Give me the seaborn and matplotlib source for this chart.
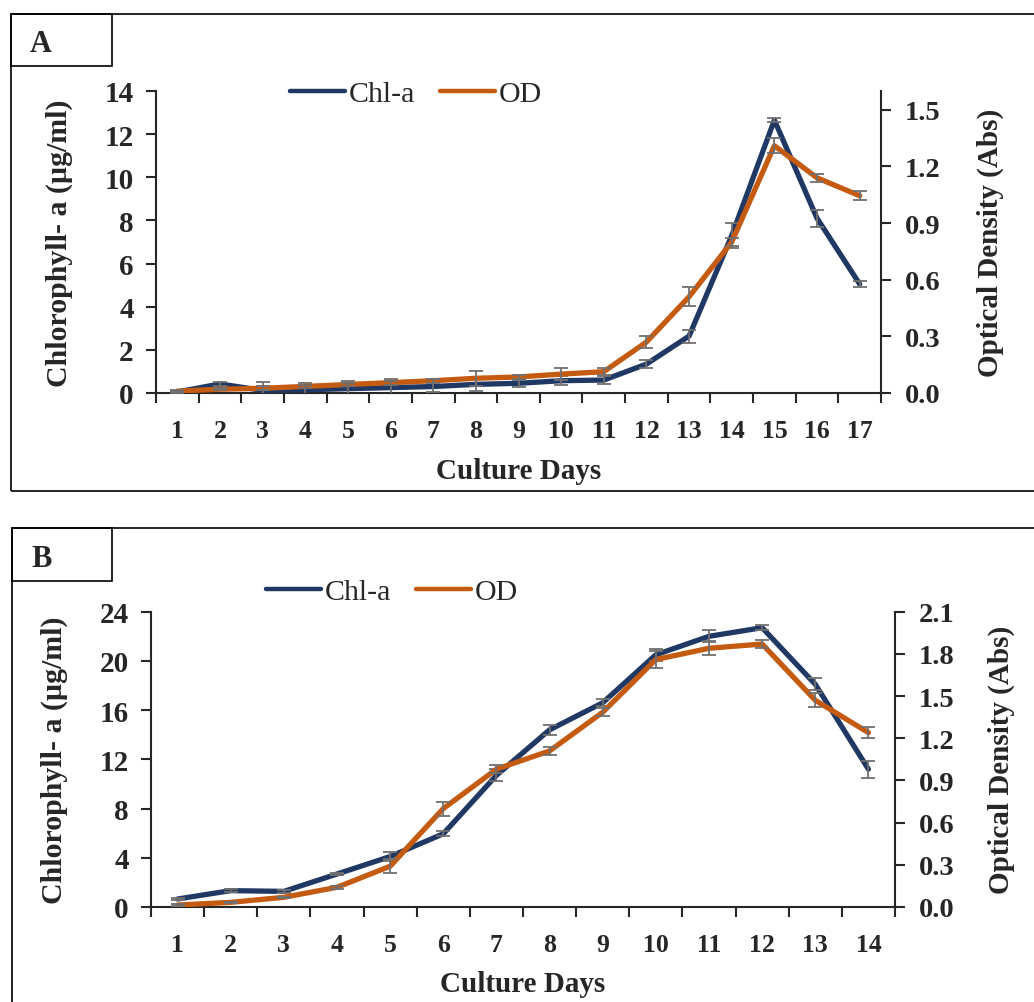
import numpy as np
import pandas as pd
import matplotlib
matplotlib.use("Agg")
import matplotlib.pyplot as plt
from matplotlib.patches import Rectangle
from matplotlib.lines import Line2D
from matplotlib.ticker import FixedLocator, NullFormatter
import seaborn as sns

# panel A
days_a = list(range(1, 18))
chl_a = [0.05, 0.42, 0.12, 0.15, 0.2, 0.25, 0.3, 0.4, 0.45, 0.57, 0.6, 1.34, 2.64, 7.3, 12.65, 8.1, 5.05]
chl_a_err = [0.05, 0.1, 0.4, 0.3, 0.35, 0.4, 0.25, 0.3, 0.15, 0.2, 0.2, 0.2, 0.3, 0.6, 0.1, 0.4, 0.15]
od_a = [0.01, 0.02, 0.025, 0.035, 0.045, 0.055, 0.065, 0.078, 0.085, 0.1, 0.113, 0.27, 0.51, 0.8, 1.31, 1.14, 1.045]
od_a_err = [0.005, 0.005, 0.01, 0.01, 0.01, 0.01, 0.01, 0.04, 0.01, 0.03, 0.02, 0.03, 0.05, 0.02, 0.04, 0.02, 0.025]

# panel B
days_b = list(range(1, 15))
chl_b = [0.65, 1.33, 1.27, 2.68, 4.1, 5.95, 10.7, 14.4, 16.6, 20.5, 22.0, 22.7, 18.1, 11.2]
chl_b_err = [0.1, 0.1, 0.1, 0.1, 0.4, 0.2, 0.5, 0.4, 0.3, 0.5, 0.5, 0.2, 0.5, 0.7]
od_b = [0.014, 0.033, 0.069, 0.14, 0.29, 0.7, 0.98, 1.11, 1.385, 1.76, 1.84, 1.87, 1.47, 1.24]
od_b_err = [0.005, 0.005, 0.005, 0.01, 0.05, 0.05, 0.03, 0.03, 0.03, 0.06, 0.05, 0.03, 0.05, 0.04]

BLUE = "#203864"
ORANGE = "#C55A11"
GREY = "#707070"

sns.set_style("ticks")
plt.rcParams["font.family"] = ["Liberation Serif", "DejaVu Serif"]
plt.rcParams["font.size"] = 19

fig = plt.figure(figsize=(10.34, 10.03), dpi=100)
W, H = 1034, 1003


def px_rect(x0, y0, x1, y1):
    return Rectangle((x0 / W, 1 - y1 / H), (x1 - x0) / W, (y1 - y0) / H,
                     transform=fig.transFigure, fill=False, lw=1.2, ec="black")


def draw_panel(rect, days, chl, chl_err, od, od_err, ymax_l, step_l, ymax_r, step_r,
               od_top, lab_x_l, lab_x_r, lab_y_x, leg_xy):
    ax = fig.add_axes(rect)
    ax2 = ax.twinx()
    df = pd.DataFrame({"day": days, "chl": chl, "od": od})
    sns.lineplot(data=df, x="day", y="chl", ax=ax, color=BLUE, lw=3.8, legend=False, zorder=3)
    sns.lineplot(data=df, x="day", y="od", ax=ax2, color=ORANGE, lw=3.8, legend=False, zorder=3)
    ax.errorbar(days, chl, yerr=chl_err, fmt="none", ecolor=GREY, elinewidth=1.3, capsize=5,
                capthick=1.3, zorder=4)
    ax2.errorbar(days, od, yerr=od_err, fmt="none", ecolor=GREY, elinewidth=1.3, capsize=5,
                 capthick=1.3, zorder=4)
    n = len(days)
    ax.set_xlim(0.5, n + 0.5)
    ax.set_ylim(0, ymax_l)
    ax2.set_ylim(0, od_top)
    ax.set_yticks(np.arange(0, ymax_l + 0.01, step_l))
    r_ticks = np.arange(0, ymax_r + 0.001, step_r)
    ax2.set_yticks(r_ticks)
    ax2.set_yticklabels([f"{v:.1f}" for v in r_ticks])
    ax.set_xticks(days)
    ax.set_xticklabels([str(d) for d in days])
    ax.xaxis.set_minor_locator(FixedLocator(np.arange(0.5, n + 1, 1)))
    ax.xaxis.set_minor_formatter(NullFormatter())
    ax.tick_params(axis="x", which="major", length=0, pad=19, labelsize=18.5)
    ax.tick_params(axis="x", which="minor", length=7, width=1.5, direction="out")
    ax.tick_params(axis="y", length=7, width=1.5, direction="out", pad=9, labelsize=21)
    ax2.tick_params(axis="y", length=7, width=1.5, direction="out", pad=10, labelsize=20.5)
    for a in (ax, ax2):
        for lab in a.get_xticklabels() + a.get_yticklabels():
            lab.set_fontweight("bold")
        a.spines["top"].set_visible(False)
        for s in ("left", "right", "bottom"):
            a.spines[s].set_linewidth(1.5)
    ax.spines["right"].set_visible(False)
    ax2.spines["left"].set_visible(False)
    ax2.spines["bottom"].set_visible(False)
    ax.set_xlabel("Culture Days", fontweight="bold", fontsize=21)
    ax.set_ylabel("Chlorophyll- a (µg/ml)", fontweight="bold", fontsize=21.5)
    ax2.set_ylabel("Optical Density (Abs)", fontweight="bold", fontsize=21, rotation=90)
    ax.yaxis.set_label_coords(lab_x_l, 0.5)
    ax2.yaxis.set_label_coords(lab_x_r, 0.5)
    ax.xaxis.set_label_coords(0.5, lab_y_x)
    handles = [Line2D([], [], color=BLUE, lw=3.2, solid_capstyle="round"),
               Line2D([], [], color=ORANGE, lw=3.2, solid_capstyle="round")]
    fig.legend(handles, ["Chl-a", "OD"], loc="center", bbox_to_anchor=leg_xy, ncol=2,
               frameon=False, fontsize=21.5, handlelength=1.85, handletextpad=0.15,
               columnspacing=0.8)
    return ax, ax2


draw_panel([156 / W, 1 - 394 / H, 725 / W, 302 / H], days_a, chl_a, chl_a_err, od_a, od_a_err,
           14, 2, 1.5, 0.3, 1.6, -0.114, 1.132, -0.212, (416 / W, 1 - 95 / H))
draw_panel([151 / W, 1 - 908 / H, 744 / W, 295.3 / H], days_b, chl_b, chl_b_err, od_b, od_b_err,
           24, 4, 2.1, 0.3, 2.1, -0.112, 1.124, -0.212, (392 / W, 1 - 593 / H))

# panel frames and label boxes
fig.add_artist(px_rect(11, 15, 1040, 492))
fig.add_artist(px_rect(11, 15, 112, 67))
fig.text(30 / W, 1 - 45 / H, "A", fontsize=22, fontweight="bold", va="center", ha="left")
fig.add_artist(px_rect(12, 529, 1040, 1010))
fig.add_artist(px_rect(12, 529, 112, 582))
fig.text(31 / W, 1 - 560 / H, "B", fontsize=22, fontweight="bold", va="center", ha="left")

fig.savefig("out.png", dpi=100)
